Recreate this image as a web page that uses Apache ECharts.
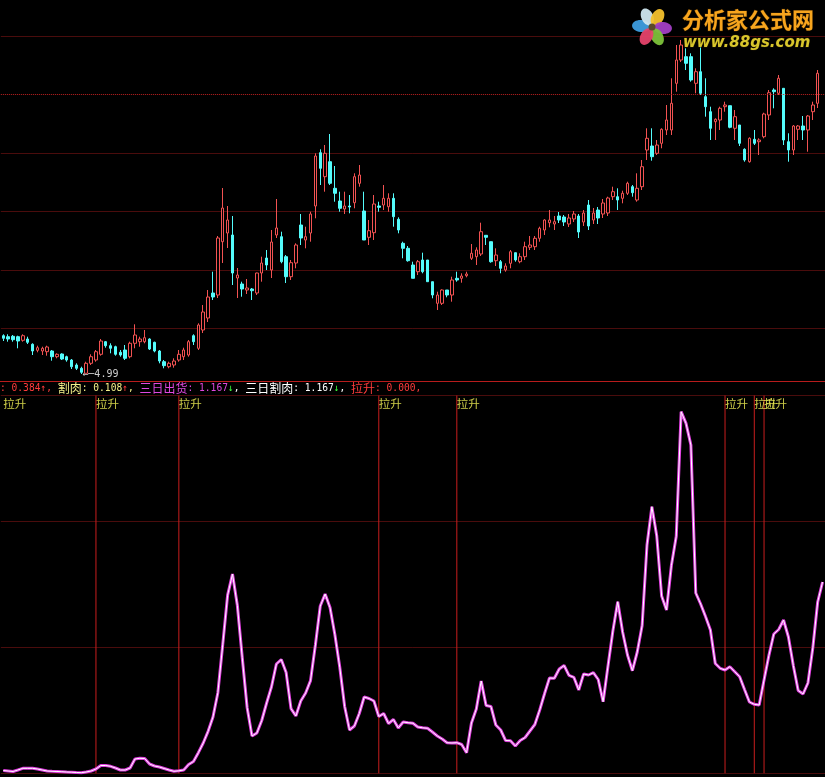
<!DOCTYPE html>
<html><head><meta charset="utf-8">
<script src="https://cdn.jsdelivr.net/npm/echarts@6/dist/echarts.min.js"></script>
<style>html,body{margin:0;padding:0;background:#000;}#c{width:825px;height:777px;}</style>
</head><body><div id="c"></div>
<script>
// ---- data ----
const opens = [5.373,5.363,5.367,5.363,5.327,5.34,5.287,5.227,5.22,5.213,
5.22,5.163,5.19,5.163,5.13,5.08,5.047,4.997,5.097,5.13,
5.187,5.313,5.273,5.263,5.207,5.23,5.163,5.297,5.313,5.313,
5.34,5.307,5.22,5.113,5.063,5.08,5.13,5.163,5.18,5.373,
5.247,5.43,5.55,5.8,5.78,6.313,6.4,6.38,5.95,5.89,
5.83,5.84,5.8,6.0,6.15,6.03,6.38,6.363,6.163,5.963,
6.1,6.48,6.33,6.4,6.67,7.203,6.963,7.113,6.847,6.72,
6.64,6.67,6.703,6.897,6.62,6.357,6.403,6.67,6.68,6.663,
6.747,6.537,6.297,6.247,6.08,6.013,6.13,6.13,5.913,5.697,
5.697,5.83,5.78,5.947,5.947,5.973,6.147,6.163,6.19,6.377,
6.313,6.123,6.113,6.03,6.097,6.203,6.113,6.163,6.257,6.263,
6.347,6.43,6.503,6.49,6.57,6.56,6.49,6.54,6.57,6.51,
6.68,6.53,6.63,6.59,6.6,6.763,6.763,6.747,6.797,6.863,
6.73,6.863,7.23,7.27,7.197,7.297,7.43,7.43,7.897,8.13,
8.163,8.163,7.897,8.013,7.763,7.613,7.513,7.53,7.663,7.673,
7.447,7.48,7.237,7.113,7.337,7.313,7.363,7.58,7.83,7.797,
7.847,7.313,7.23,7.437,7.47,7.43,7.613,7.697];
const closes = [5.347,5.34,5.333,5.32,5.373,5.307,5.22,5.253,5.247,5.26,
5.163,5.187,5.14,5.13,5.063,5.047,5.007,5.097,5.163,5.213,
5.32,5.273,5.247,5.187,5.18,5.147,5.297,5.38,5.34,5.353,
5.24,5.22,5.12,5.073,5.097,5.12,5.187,5.23,5.313,5.313,
5.48,5.61,5.76,5.76,6.35,6.65,6.53,6.0,5.98,5.84,
5.85,5.823,6.0,6.1,6.08,6.31,6.45,6.113,5.963,6.103,
6.28,6.35,6.363,6.59,7.17,7.047,7.197,6.897,6.797,6.647,
6.67,6.66,6.963,6.98,6.33,6.423,6.69,6.657,6.747,6.747,
6.563,6.43,6.247,6.123,5.947,6.113,6.013,5.913,5.78,5.78,
5.83,5.78,5.93,5.93,5.97,5.99,6.197,6.23,6.413,6.357,
6.113,6.18,6.047,6.07,6.213,6.13,6.163,6.263,6.28,6.347,
6.447,6.53,6.53,6.513,6.53,6.51,6.55,6.59,6.41,6.6,
6.47,6.6,6.55,6.7,6.75,6.813,6.73,6.797,6.897,6.803,
6.847,7.063,7.347,7.163,7.28,7.437,7.53,7.697,8.13,8.28,
8.097,7.93,8.013,7.797,7.663,7.447,7.537,7.647,7.68,7.457,
7.563,7.297,7.13,7.347,7.297,7.33,7.59,7.803,7.813,7.947,
7.33,7.23,7.47,7.47,7.43,7.57,7.68,7.997];
const lows = [5.32,5.313,5.313,5.247,5.313,5.29,5.18,5.207,5.18,5.173,
5.123,5.147,5.13,5.113,5.04,5.03,4.99,4.997,5.08,5.113,
5.173,5.253,5.197,5.173,5.163,5.13,5.147,5.247,5.263,5.297,
5.23,5.207,5.097,5.047,5.047,5.053,5.113,5.13,5.163,5.28,
5.23,5.4,5.51,5.73,5.75,6.1,6.25,5.88,5.75,5.763,
5.79,5.73,5.78,5.913,6.03,5.95,6.35,6.097,5.9,5.93,
6.047,6.28,6.247,6.313,6.547,6.88,6.813,6.88,6.713,6.613,
6.59,6.597,6.647,6.863,6.33,6.28,6.33,6.613,6.63,6.613,
6.463,6.397,6.147,6.113,5.947,5.98,5.997,5.913,5.747,5.63,
5.68,5.757,5.713,5.913,5.903,5.957,6.13,6.08,6.17,6.28,
6.103,6.07,5.997,6.013,6.047,6.113,6.097,6.13,6.23,6.23,
6.313,6.38,6.457,6.43,6.5,6.47,6.46,6.51,6.35,6.47,
6.43,6.49,6.49,6.55,6.57,6.73,6.63,6.697,6.78,6.763,
6.713,6.83,7.13,7.123,7.18,7.247,7.38,7.38,7.813,8.11,
8.03,7.913,7.797,7.78,7.563,7.33,7.33,7.43,7.613,7.447,
7.33,7.27,7.113,7.103,7.28,7.18,7.347,7.53,7.647,7.78,
7.28,7.113,7.18,7.33,7.33,7.213,7.53,7.65];
const highs = [5.387,5.387,5.38,5.373,5.387,5.363,5.297,5.273,5.263,5.273,
5.23,5.197,5.197,5.173,5.14,5.097,5.063,5.113,5.187,5.23,
5.34,5.32,5.297,5.273,5.23,5.28,5.313,5.487,5.363,5.43,
5.347,5.313,5.23,5.13,5.113,5.147,5.23,5.253,5.33,5.387,
5.497,5.68,5.83,6.013,6.37,6.85,6.67,6.57,6.05,5.913,
5.94,5.85,6.003,6.163,6.23,6.43,6.74,6.413,6.18,6.13,
6.297,6.59,6.463,6.613,7.197,7.237,7.28,7.39,7.07,6.813,
6.813,6.78,6.997,7.08,6.813,6.53,6.78,6.713,6.88,6.797,
6.797,6.557,6.313,6.27,6.113,6.13,6.203,6.13,5.913,5.813,
5.837,5.83,5.963,6.013,5.997,6.013,6.29,6.257,6.503,6.377,
6.313,6.247,6.13,6.097,6.23,6.203,6.197,6.313,6.37,6.37,
6.463,6.537,6.63,6.57,6.61,6.58,6.59,6.62,6.59,6.63,
6.73,6.65,6.66,6.74,6.763,6.863,6.847,6.823,6.913,6.88,
6.997,7.13,7.447,7.447,7.33,7.447,7.68,7.947,8.28,8.33,
8.247,8.197,8.047,8.263,7.947,7.663,7.547,7.663,7.713,7.673,
7.63,7.48,7.247,7.357,7.43,7.347,7.603,7.83,7.847,7.98,
7.847,7.397,7.48,7.48,7.57,7.58,7.713,8.03];
const indicator = [0.028,0.023,0.018,0.033,0.05,0.05,0.05,0.043,0.033,0.023,
0.02,0.018,0.016,0.013,0.011,0.008,0.006,0.013,0.023,0.043,
0.078,0.078,0.07,0.053,0.033,0.033,0.053,0.143,0.15,0.148,
0.093,0.073,0.063,0.048,0.033,0.02,0.025,0.033,0.088,0.118,
0.206,0.303,0.42,0.563,0.806,1.286,1.781,1.993,1.678,1.158,
0.658,0.373,0.403,0.528,0.703,0.866,1.093,1.138,1.008,0.647,
0.573,0.723,0.803,0.927,1.283,1.673,1.793,1.657,1.386,1.06,
0.668,0.433,0.473,0.598,0.763,0.748,0.723,0.568,0.598,0.498,
0.538,0.453,0.513,0.506,0.501,0.463,0.455,0.45,0.413,0.373,
0.343,0.306,0.303,0.306,0.288,0.206,0.503,0.643,0.923,0.678,
0.668,0.483,0.433,0.328,0.326,0.273,0.328,0.358,0.423,0.488,
0.633,0.798,0.953,0.95,1.043,1.078,0.98,0.96,0.833,0.993,
0.983,1.006,0.938,0.716,1.073,1.423,1.716,1.413,1.183,1.026,
1.213,1.478,2.283,2.666,2.373,1.773,1.633,2.077,2.37,3.616,
3.5,3.283,1.803,1.693,1.568,1.433,1.098,1.05,1.033,1.066,
1.016,0.966,0.838,0.713,0.69,0.683,0.933,1.179,1.393,1.438,
1.533,1.363,1.078,0.828,0.793,0.903,1.253,1.713,1.913];
const signalLines = [19, 36, 77, 93, 148, 154, 156];   // 拉升 signal bars
const signalLabels = [0, 19, 36, 77, 93, 148, 154, 156];
const signalText = '拉升';
const lowMark = {idx: 16, price: 4.99, text: '←─4.99'};
const refPrice = 7.785;           // dotted reference line
const priceAxis = {min: 4.863, max: 8.37, interval: 0.5845};
const indAxis = {min: 0, max: 3.778, interval: 1.2593};
const dayCount = 169;
const days = [];
for (let i = 0; i < dayCount; i++) days.push('D' + (i + 1));

// ---- build ----
const kdata = opens.map((o, i) => [o, closes[i], lows[i], highs[i]]);
const sigBars = days.map((d, i) => signalLines.indexOf(i) >= 0 ? indAxis.max : '-');
const sigLabelData = signalLabels.map(i => [i, indAxis.max]);

const RED = '#f25252', CYAN = '#54fcfc', GRID = '#4a0c0c';
const chart = echarts.init(document.getElementById('c'));
const petals = [
  {a: 185, c: '#3d9de0'}, {a: 245, c: '#cfe6ef'}, {a: 300, c: '#f3c02c'},
  {a: 5, c: '#a23fc4'}, {a: 62, c: '#7cc23a'}, {a: 120, c: '#e5426a'}
];
const logo = petals.map(p => ({
  type: 'ellipse', x: 652, y: 27, rotation: -p.a * Math.PI / 180,
  shape: {cx: 11, cy: 0, rx: 9, ry: 6}, style: {fill: p.c, opacity: 0.95}, z: 50
}));
logo.push({type: 'circle', shape: {cx: 652, cy: 27, r: 3.5}, style: {fill: '#5a4a2a'}, z: 51});
logo.push({type: 'text', x: 682, y: 20, z: 52, style: {
  text: '分析家公式网', font: 'bold 22px "Noto Sans CJK SC"', verticalAlign: 'middle',
  fill: '#f7a51e', stroke: '#3a2200', lineWidth: 1}});
logo.push({type: 'text', x: 683, y: 43, z: 52, style: {
  text: 'www.88gs.com', font: 'italic bold 15px "DejaVu Sans"', verticalAlign: 'middle',
  fill: '#d8c62c', stroke: '#1e1600', lineWidth: 1}});

const mono = '"DejaVu Sans Mono"', cjk = '"Noto Sans CJK SC"';
const st = (color, fam, size) => ({color: color, fontFamily: fam, fontSize: size, fontWeight: 'normal', lineHeight: 12});
const header = '{rm|: 0.384↑, }{yc|割肉}{ym|: 0.108}{rm|↑}{ym|, }{mc|三日出货}{mm|: 1.167}{gm|↓}{wm|, }' +
  '{wc|三日割肉}{wm|: 1.167}{gm|↓}{wm|, }{rc|拉升}{rm|: 0.000,}';

chart.setOption({
  animation: false,
  backgroundColor: '#000',
  title: {
    text: header, left: 0, top: 382, padding: 0,
    textStyle: {fontWeight: 'normal', rich: {
      rm: st('#ff3c3c', mono, 9.6), rc: st('#ff3c3c', cjk, 12),
      ym: st('#f4f08a', mono, 9.6), yc: st('#f4f08a', cjk, 12),
      mm: st('#e048e0', mono, 9.6), mc: st('#e048e0', cjk, 12),
      wm: st('#ffffff', mono, 9.6), wc: st('#ffffff', cjk, 12),
      gm: st('#3cff3c', mono, 9.6)
    }}
  },
  grid: [
    {left: 0.85, width: 828.1, top: 36, height: 350.7},
    {left: 0.85, width: 828.1, top: 395.5, height: 377.8}
  ],
  xAxis: [
    {type: 'category', gridIndex: 0, data: days, boundaryGap: true, show: false},
    {type: 'category', gridIndex: 1, data: days, boundaryGap: true, show: false}
  ],
  yAxis: [
    {type: 'value', gridIndex: 0, min: priceAxis.min, max: priceAxis.max, interval: priceAxis.interval,
     axisLabel: {show: false}, axisLine: {show: false}, axisTick: {show: false},
     splitLine: {show: true, lineStyle: {width: 1, color: ['rgba(0,0,0,0)', GRID, GRID, GRID, GRID, 'rgba(0,0,0,0)', GRID, GRID]}}},
    {type: 'value', gridIndex: 1, min: indAxis.min, max: indAxis.max, interval: indAxis.interval,
     axisLabel: {show: false}, axisLine: {show: false}, axisTick: {show: false},
     splitLine: {show: true, lineStyle: {width: 1, color: GRID}}}
  ],
  graphic: [
    {type: 'line', shape: {x1: 0, y1: 381.5, x2: 825, y2: 381.5}, style: {stroke: '#b81c1c', lineWidth: 1}, z: 10}
  ].concat(logo),
  series: [
    {
      type: 'candlestick', xAxisIndex: 0, yAxisIndex: 0, data: kdata, barWidth: 3,
      itemStyle: {color: '#000', color0: CYAN, borderColor: RED, borderColor0: CYAN, borderWidth: 1},
      markLine: {silent: true, symbol: 'none', label: {show: false},
        lineStyle: {type: 'dotted', color: '#c02020', width: 1}, data: [{yAxis: refPrice}]},
      markPoint: {symbol: 'circle', symbolSize: 0, silent: true,
        data: [{coord: [lowMark.idx, lowMark.price]}],
        label: {show: true, formatter: lowMark.text, position: 'right', distance: 1,
          color: '#cfcfcf', fontFamily: mono, fontSize: 10}}
    },
    {
      type: 'bar', xAxisIndex: 1, yAxisIndex: 1, data: sigBars, barWidth: 1,
      itemStyle: {color: '#c81e1e'}, z: 1
    },
    {
      type: 'line', xAxisIndex: 1, yAxisIndex: 1, data: indicator, symbol: 'none',
      lineStyle: {color: '#e040e0', width: 3}, z: 3
    },
    {
      type: 'line', xAxisIndex: 1, yAxisIndex: 1, data: indicator, symbol: 'none',
      lineStyle: {color: '#ffffff', width: 1}, z: 4
    },
    {
      type: 'scatter', xAxisIndex: 1, yAxisIndex: 1, data: sigLabelData, symbolSize: 0,
      itemStyle: {color: 'rgba(0,0,0,0)'}, z: 5,
      label: {show: true, formatter: signalText, position: [0, 2], color: '#ffff5a',
        fontFamily: cjk, fontSize: 11.5}
    }
  ]
});
</script></body></html>
